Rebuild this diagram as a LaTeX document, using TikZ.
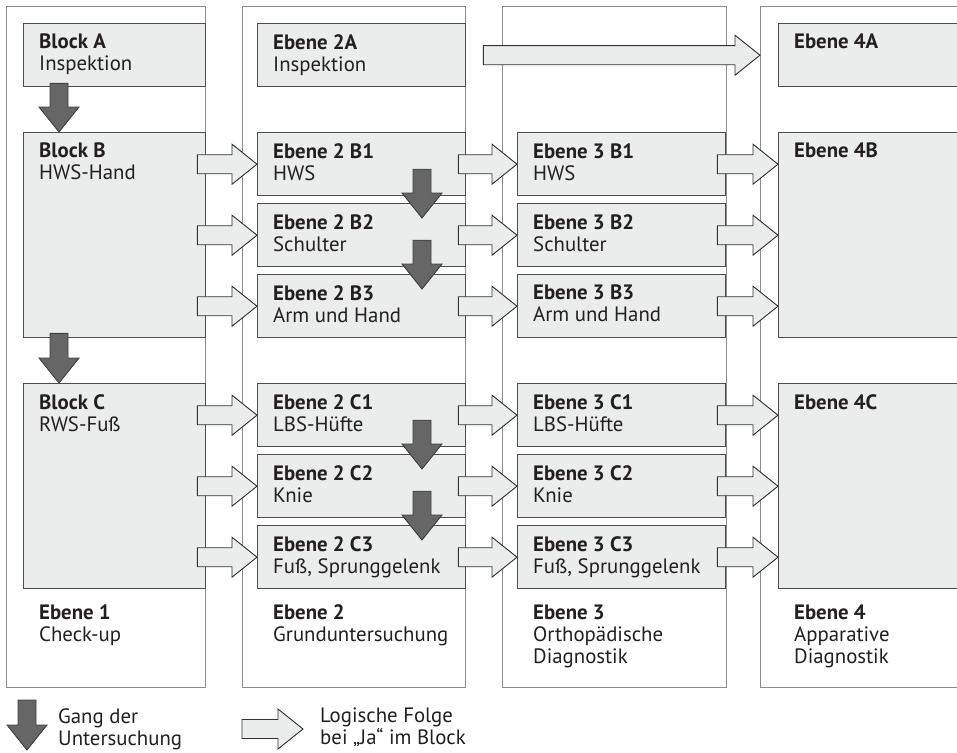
\documentclass[tikz,border=0pt]{standalone}
\usepackage{fontspec}
\setmainfont{PT Sans}
\usetikzlibrary{calc,positioning}
\definecolor{kastengrau}{HTML}{EBECEC}
\definecolor{randgrau}{HTML}{4D4D4D}
\definecolor{spaltengrau}{HTML}{8C8C8C}
\definecolor{pfeilgrau}{HTML}{666666}
\definecolor{schrift}{HTML}{231F20}

\begin{document}
\begin{tikzpicture}[x=1pt,y=-1pt,
    spalte/.style={draw=spaltengrau,line width=1.2pt,anchor=north west,inner sep=0pt,minimum height=681pt},
    kasten/.style={draw=randgrau,fill=kastengrau,line width=1.4pt,anchor=north west,inner sep=0pt},
    txt/.style={anchor=north west,align=left,inner sep=0pt,text=schrift,font=\fontsize{20.8}{22}\selectfont},
    folge/.style={draw=black!80,fill=kastengrau,line width=0.9pt,
      to path={let \p1=(\tikztostart),\p2=(\tikztotarget) in
        (\x1,\y2+9.5pt) -- (\x2-25pt,\y2+9.5pt) -- (\x2-25pt,\y2+20pt) -- (\p2)
        -- (\x2-25pt,\y2-20pt) -- (\x2-25pt,\y2-9.5pt) -- (\x1,\y2-9.5pt) -- cycle}},
    gang/.style={draw=black!75,fill=pfeilgrau,line width=0.9pt,
      to path={let \p1=(\tikztostart),\p2=(\tikztotarget) in
        (\x2-9pt,\y1) -- (\x2-9pt,\y2+25pt) -- (\x2-20pt,\y2+25pt) -- (\p2)
        -- (\x2+20pt,\y2+25pt) -- (\x2+9pt,\y2+25pt) -- (\x2+9pt,\y1) -- cycle}}]
  \useasboundingbox (0,0) rectangle (957,752);
  \clip (0,0) rectangle (957,752);

  % Spalten
  \node[spalte,minimum width=199pt] (col1) at (6,6) {};
  \node[spalte,minimum width=223pt] (col2) at (242,6) {};
  \node[spalte,minimum width=224pt] (col3) at (502,6) {};
  \node[spalte,minimum width=240pt] (col4) at (760,6) {};

  % Ebene 1
  \node[kasten,minimum width=182pt,minimum height=63pt] (bA) at (23,23) {};
  \node[kasten,minimum width=182pt,minimum height=205pt] (bB) at (23,132) {};
  \node[kasten,minimum width=182pt,minimum height=205pt] (bC) at (23,383) {};
  \node[txt] (tA) at ([shift={(16pt,-11pt)}]bA.north west) {\textbf{Block A}\\Inspektion};
  \node[txt] (tB) at ([shift={(16pt,-11pt)}]bB.north west) {\textbf{Block B}\\HWS-Hand};
  \node[txt] (tC) at ([shift={(16pt,-11pt)}]bC.north west) {\textbf{Block C}\\RWS-Fuß};

  % Ebene 2 und 3
  \node[kasten,minimum width=208pt,minimum height=63pt] (e2A) at (257,23) {};
  \node[txt] (t2A) at ([shift={(16pt,-11pt)}]e2A.north west) {\textbf{Ebene 2A}\\Inspektion};
  \foreach \eb/\ex in {2/257,3/517}{
    \foreach \zl/\zy/\tx in {B1/132/HWS,B2/203/Schulter,B3/274/Arm und Hand,
        C1/383/LBS-Hüfte,C2/454/Knie,C3/525/{Fuß, Sprunggelenk}}{
      \node[kasten,minimum width=208pt,minimum height=63pt] (e\eb\zl) at (\ex,\zy) {};
      \node[txt] (t\eb\zl) at ([shift={(16pt,-11pt)}]e\eb\zl.north west) {\textbf{Ebene \eb\ \zl}\\\tx};
    }
  }

  % Ebene 4
  \node[kasten,minimum width=230pt,minimum height=63pt] (e4A) at (778,23) {};
  \node[kasten,minimum width=230pt,minimum height=205pt] (e4B) at (778,132) {};
  \node[kasten,minimum width=230pt,minimum height=205pt] (e4C) at (778,383) {};
  \node[txt] (t4A) at ([shift={(16pt,-11pt)}]e4A.north west) {\textbf{Ebene 4A}};
  \node[txt] (t4B) at ([shift={(16pt,-11pt)}]e4B.north west) {\textbf{Ebene 4B}};
  \node[txt] (t4C) at ([shift={(16pt,-11pt)}]e4C.north west) {\textbf{Ebene 4C}};

  % Fusszeilen
  \node[txt] (f1) at ([shift={(16pt,-15pt)}]bC.south west) {\textbf{Ebene 1}\\Check-up};
  \node[txt] (f2) at ([shift={(16pt,-15pt)}]e2C3.south west) {\textbf{Ebene 2}\\Grunduntersuchung};
  \node[txt] (f3) at ([shift={(16pt,-15pt)}]e3C3.south west) {\textbf{Ebene 3}\\Orthopädische\\Diagnostik};
  \node[txt] (f4) at ([shift={(16pt,-15pt)}]e4C.south west) {\textbf{Ebene 4}\\Apparative\\Diagnostik};

  % Gang der Untersuchung
  \draw[gang] ([yshift=4pt]bA.south) to ([xshift=36pt]bB.north west);
  \draw[gang] ([yshift=5pt]bB.south) to ([xshift=36pt]bC.north west);
  \foreach \a/\b in {B1/B2,B2/B3,C1/C2,C2/C3}
    \draw[gang] ([yshift=-5pt]e2\a.center) to ([shift={(165pt,-15pt)}]e2\b.north west);

  % Logische Folge
  \foreach \r in {1,2,3}{
    \draw[folge] ([xshift=-9pt]bB.east) to (e2B\r.west);
    \draw[folge] ([xshift=-9pt]bC.east) to (e2C\r.west);
    \draw[folge] ([xshift=-8pt]e2B\r.east) to (e3B\r.west);
    \draw[folge] ([xshift=-8pt]e2C\r.east) to (e3C\r.west);
    \draw[folge] ([xshift=-9pt]e3B\r.east) to (e4B.west |- e3B\r);
    \draw[folge] ([xshift=-9pt]e3C\r.east) to (e4C.west |- e3C\r);
  }
  \draw[folge] ([xshift=17pt]e2A.east) to (col4.west |- e2A);

  % Legende
  \coordinate (lgA) at (27,700);
  \coordinate (lgB) at (27,750);
  \draw[gang] (lgA) to (lgB);
  \node[txt] (lg1) at (58,708) {Gang der\\Untersuchung};
  \coordinate (lgC) at (242,729);
  \coordinate (lgD) at (303,729);
  \draw[folge] (lgC) to (lgD);
  \node[txt] (lg2) at (320,708) {Logische Folge\\bei „Ja“ im Block};
\end{tikzpicture}
\end{document}
